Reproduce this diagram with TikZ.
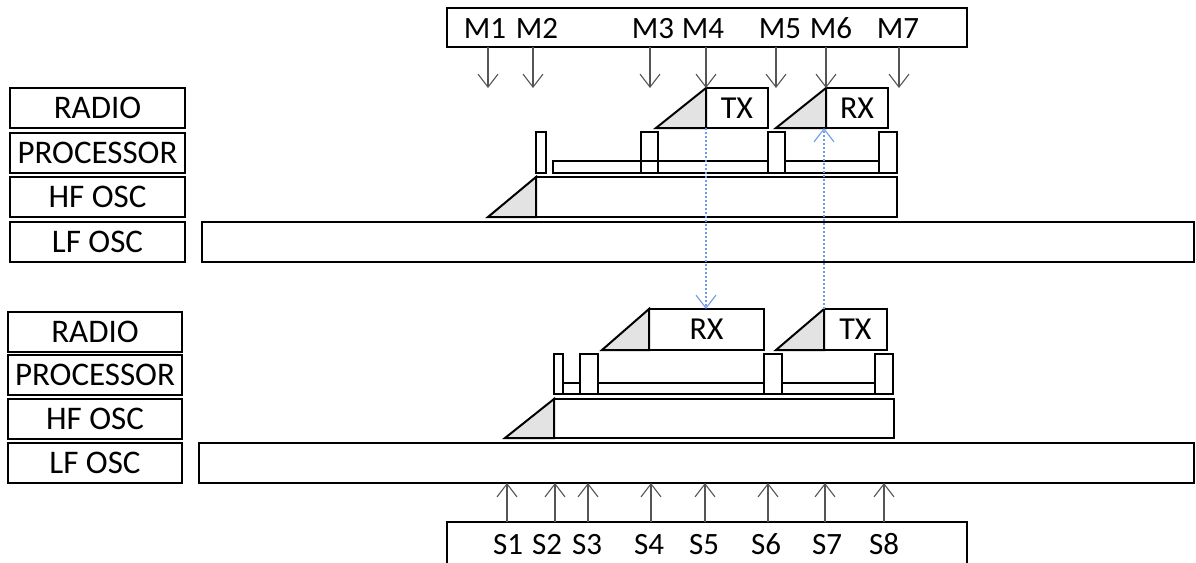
\documentclass[tikz,border=0pt]{standalone}
\usepackage{fontspec}
\setmainfont{Carlito}
\usetikzlibrary{arrows.meta}
\definecolor{trifill}{gray}{0.89}
\definecolor{arrgray}{RGB}{85,85,85}
\definecolor{bluedot}{RGB}{110,155,230}
\newcommand\mybox[6]{\node[box,minimum width={#4-#2},minimum height={#5-#3}] (#1) at (#2,#3) {#6};}
\newcommand\mylbl[6]{\node[box,lblfont,minimum width={#4-#2},minimum height={#5-#3}] (#1) at (#2,#3) {#6};}
\begin{document}
\begin{tikzpicture}[x=1pt,y=-1pt,
  box/.style={draw,line width=2pt,inner sep=0pt,outer sep=0pt,anchor=north west},
  lblfont/.style={font=\fontsize{33}{33}\selectfont},
  msfont/.style={font=\fontsize{31}{31}\selectfont,anchor=base,inner sep=0pt},
  ramp/.style={draw,line width=2pt,fill=trifill,line join=miter},
  sig/.style={draw=arrgray,line width=1.1pt,-{Straight Barb[length=13pt,width=20pt,line width=1.1pt]}},
  msg/.style={draw=bluedot,line width=1.1pt,dash pattern=on 2pt off 2pt,-{Straight Barb[length=13pt,width=20pt,line width=1.1pt]}}]
\useasboundingbox (0,0) rectangle (1196,562);

% ---------- Master ----------
\mylbl{mradio}{10}{88}{185}{128}{RADIO}
\mylbl{mproc}{10}{133}{185}{173}{PROCESSOR}
\mylbl{mhf}{10}{177}{185}{217}{HF OSC}
\mylbl{mlf}{10}{222}{185}{262}{LF OSC}
\mybox{mlfbar}{202}{222}{1194}{262}{}
% HF osc
\filldraw[ramp] (488,217) -- (536,177) -- (536,217) -- cycle;
\mybox{mhfbar}{536}{177}{897}{217}{}
% processor
\mybox{mp0}{536}{132}{546}{173}{}
\mybox{mpb1}{553}{161}{768}{173}{}
\mybox{mp1}{641}{132}{658}{173}{}
\mybox{mp2}{768}{132}{785}{173}{}
\mybox{mpb2}{785}{161}{879}{173}{}
\mybox{mp3}{879}{132}{897}{173}{}
% radio
\filldraw[ramp] (656,128) -- (706,88) -- (706,128) -- cycle;
\mybox{mtx}{706}{88}{768}{128}{\fontsize{32}{32}\selectfont TX}
\filldraw[ramp] (776,128) -- (826,88) -- (826,128) -- cycle;
\mybox{mrx}{826}{88}{888}{128}{\fontsize{32}{32}\selectfont RX}
% M box
\mybox{mbox}{447}{8}{967}{47}{}
\node[msfont] (m1) at (485,38) {M1};
\node[msfont] (m2) at (537,38) {M2};
\node[msfont] (m3) at (653,38) {M3};
\node[msfont] (m4) at (703,38) {M4};
\node[msfont] (m5) at (780,38) {M5};
\node[msfont] (m6) at (831,38) {M6};
\node[msfont] (m7) at (898,38) {M7};
\coordinate (t1) at (488,88);
\coordinate (t2) at (533,88);
\coordinate (t3) at (650,88);
\coordinate (t5) at (776,88);
\coordinate (t7) at (899,88);
\draw[sig] (t1 |- mbox.south) -- (t1);
\draw[sig] (t2 |- mbox.south) -- (t2);
\draw[sig] (t3 |- mbox.south) -- (t3);
\draw[sig] (mtx.north west |- mbox.south) -- (mtx.north west);
\draw[sig] (t5 |- mbox.south) -- (t5);
\draw[sig] (mrx.north west |- mbox.south) -- (mrx.north west);
\draw[sig] (t7 |- mbox.south) -- (t7);

% ---------- Slave ----------
\mylbl{sradio}{8}{312}{182}{352}{RADIO}
\mylbl{sproc}{8}{355}{182}{395}{PROCESSOR}
\mylbl{shf}{8}{399}{182}{439}{HF OSC}
\mylbl{slf}{8}{443}{182}{483}{LF OSC}
\mybox{slfbar}{199}{443}{1194}{483}{}
% HF osc
\filldraw[ramp] (505,438) -- (554,399) -- (554,438) -- cycle;
\mybox{shfbar}{554}{399}{894}{438}{}
% processor
\mybox{spb0}{563}{383}{580}{394}{}
\mybox{sp0}{554}{354}{563}{394}{}
\mybox{spb1}{598}{383}{764}{394}{}
\mybox{sp1}{580}{354}{598}{394}{}
\mybox{sp2}{764}{354}{782}{394}{}
\mybox{spb2}{782}{383}{875}{394}{}
\mybox{sp3}{875}{354}{893}{394}{}
% radio
\filldraw[ramp] (602,350) -- (649,309) -- (649,350) -- cycle;
\mybox{srx}{649}{309}{764}{350}{\fontsize{32}{32}\selectfont RX}
\filldraw[ramp] (776,350) -- (824,309) -- (824,350) -- cycle;
\mybox{stx}{824}{309}{887}{350}{\fontsize{32}{32}\selectfont TX}
% S box
\mybox{sbox}{447}{522}{967}{580}{}
\node[msfont] (s1) at (508,554) {S1};
\node[msfont] (s2) at (547,554) {S2};
\node[msfont] (s3) at (587,554) {S3};
\node[msfont] (s4) at (649,554) {S4};
\node[msfont] (s5) at (704,554) {S5};
\node[msfont] (s6) at (766,554) {S6};
\node[msfont] (s7) at (827,554) {S7};
\node[msfont] (s8) at (884,554) {S8};
\foreach \x in {507,555,588,651,705,768,825,884}{
  \draw[sig] (\x,0 |- sbox.north) -- (\x,0 |- slfbar.south);
}

% ---------- messages ----------
\draw[msg] (mtx.south west) -- (mtx.south west |- srx.north);
\draw[msg] (stx.north west) -- (stx.north west |- mrx.south);
\end{tikzpicture}
\end{document}
